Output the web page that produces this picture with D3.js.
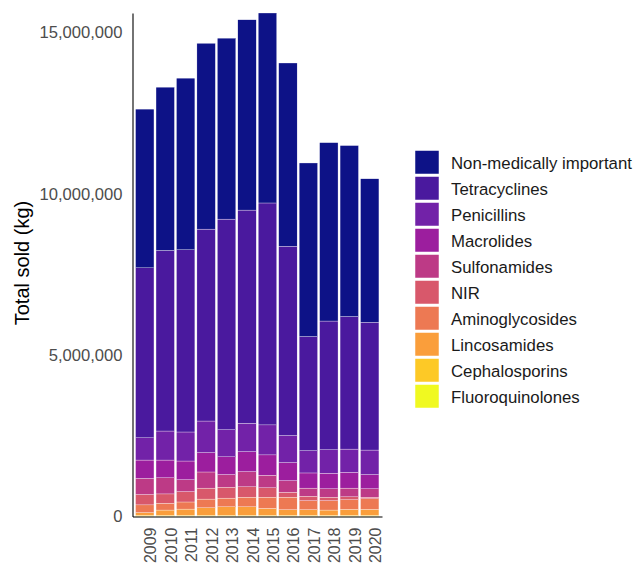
<!DOCTYPE html>
<html>
<head>
<meta charset="utf-8">
<script src="https://cdn.jsdelivr.net/npm/d3@7"></script>
<style>
  body { margin: 0; background: #fff; }
  svg { font-family: "Liberation Sans", Arial, sans-serif; }
</style>
</head>
<body>
<svg width="633" height="563"></svg>
<script>
// years on the x axis
var years = ["2009","2010","2011","2012","2013","2014","2015","2016","2017","2018","2019","2020"];

// classes, top of stack first (legend order)
var classes = ["Non-medically important","Tetracyclines","Penicillins","Macrolides","Sulfonamides",
               "NIR","Aminoglycosides","Lincosamides","Cephalosporins","Fluoroquinolones"];

// kg sold (millions)
var nonMedical      = [4.92, 5.06, 5.32, 5.76, 5.61, 5.90, 5.89, 5.68, 5.38, 5.53, 5.30, 4.45];
var tetracyclines   = [5.27, 5.60, 5.65, 5.95, 6.53, 6.61, 6.88, 5.87, 3.54, 3.99, 4.11, 3.96];
var penicillins     = [0.69, 0.90, 0.90, 0.98, 0.84, 0.88, 0.93, 0.84, 0.69, 0.73, 0.72, 0.76];
var macrolides      = [0.57, 0.55, 0.58, 0.60, 0.55, 0.62, 0.63, 0.56, 0.47, 0.48, 0.49, 0.44];
var sulfonamides    = [0.50, 0.50, 0.37, 0.50, 0.39, 0.47, 0.39, 0.36, 0.25, 0.26, 0.27, 0.26];
var nir             = [0.32, 0.29, 0.32, 0.34, 0.34, 0.32, 0.29, 0.15, 0.14, 0.11, 0.09, 0.05];
var aminoglycosides = [0.24, 0.21, 0.22, 0.27, 0.27, 0.30, 0.35, 0.39, 0.28, 0.29, 0.30, 0.33];
var lincosamides    = [0.08, 0.16, 0.19, 0.23, 0.26, 0.26, 0.21, 0.17, 0.17, 0.16, 0.18, 0.18];
var cephalosporins  = [0.03, 0.03, 0.03, 0.03, 0.03, 0.03, 0.03, 0.03, 0.03, 0.03, 0.03, 0.03];
var fluoroquinolones= [0.01, 0.01, 0.01, 0.01, 0.01, 0.01, 0.01, 0.01, 0.01, 0.01, 0.01, 0.01];

var yTicks = [0, 5000000, 10000000, 15000000];

var colors = ["#0D1287","#4A199E","#7222A8","#9C1E9E","#BD3A86",
              "#D8586B","#ED7953","#FA9E3B","#FDC926","#F0F921"];

var series = [nonMedical, tetracyclines, penicillins, macrolides, sulfonamides,
              nir, aminoglycosides, lincosamides, cephalosporins, fluoroquinolones];

// one row per year for d3.stack
var rows = years.map(function(y, i) {
  var r = {year: y};
  classes.forEach(function(c, k) { r[c] = series[k][i] * 1e6; });
  return r;
});

var stackOrder = classes.slice().reverse(); // bottom first
var stacked = d3.stack().keys(stackOrder)(rows);
var totals = rows.map(function(r) { return d3.sum(classes, function(c) { return r[c]; }); });

var svg = d3.select("svg");
var color = d3.scaleOrdinal().domain(classes).range(colors);

var x = d3.scaleBand()
    .domain(years)
    .range([132.5, 382])
    .paddingInner(0.1)
    .paddingOuter(0.15);

var y = d3.scaleLinear()
    .domain([0, d3.max(totals)])
    .range([516.5, 13]);

// bars
svg.append("g").selectAll("g")
    .data(stacked)
  .enter().append("g")
    .attr("fill", function(d) { return color(d.key); })
  .selectAll("rect")
    .data(function(d) { return d; })
  .enter().append("rect")
    .attr("x", function(d) { return x(d.data.year); })
    .attr("width", x.bandwidth())
    .attr("y", function(d) { return y(d[1]); })
    .attr("height", function(d) { return y(d[0]) - y(d[1]); })
    .attr("stroke", "#fff")
    .attr("stroke-width", 0.3);

// y axis
var yAxis = svg.append("g")
    .attr("transform", "translate(132.5,0)")
    .call(d3.axisLeft(y).tickValues(yTicks).tickSize(0).tickPadding(10).tickFormat(d3.format(",")));
yAxis.select(".domain").attr("stroke", "#000").attr("stroke-width", 1.1);
yAxis.selectAll("text").attr("fill", "#4d4d4d").attr("font-size", 16.6).attr("font-family", null);

// x axis
var xAxis = svg.append("g")
    .attr("transform", "translate(0,516.5)")
    .call(d3.axisBottom(x).tickSize(0));
xAxis.select(".domain").attr("stroke", "#000").attr("stroke-width", 1.1);
xAxis.selectAll("text")
    .attr("fill", "#4d4d4d")
    .attr("font-size", 16)
    .attr("font-family", null)
    .attr("text-anchor", "end")
    .attr("transform", "rotate(-90)")
    .attr("x", -11)
    .attr("y", 0)
    .attr("dy", "0.72em");

// y title
svg.append("text")
    .attr("transform", "translate(29,263) rotate(-90)")
    .attr("text-anchor", "middle")
    .attr("font-size", 20)
    .attr("fill", "#000")
    .text("Total sold (kg)");

// legend
var legend = svg.append("g").attr("transform", "translate(415,150.5)");
var item = legend.selectAll("g")
    .data(classes)
  .enter().append("g")
    .attr("transform", function(d, i) { return "translate(0," + i * 26 + ")"; });
item.append("rect")
    .attr("width", 24)
    .attr("height", 23.5)
    .attr("fill", function(d) { return color(d); })
    .attr("stroke", "#fff")
    .attr("stroke-width", 0.5);
item.append("text")
    .attr("x", 36)
    .attr("y", 12)
    .attr("dy", "0.36em")
    .attr("font-size", 16.8)
    .attr("fill", "#1a1a1a")
    .text(function(d) { return d; });
</script>
</body>
</html>
